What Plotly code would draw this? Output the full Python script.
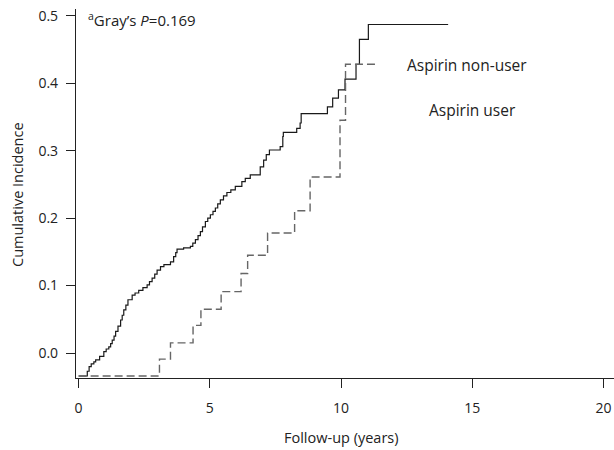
import plotly.graph_objects as go

# Aspirin non-user (solid): step times (years) and cumulative incidence after each step
nonuser_t = [0, 0.33, 0.40, 0.48, 0.58, 0.65, 0.80, 0.96, 1.05, 1.15, 1.22, 1.28, 1.35, 1.41,
             1.50, 1.60, 1.66, 1.72, 1.80, 1.88, 2.04, 2.15, 2.29, 2.45, 2.61, 2.70, 2.80,
             2.90, 2.99, 3.12, 3.25, 3.50, 3.62, 3.70, 3.75, 4.00, 4.26, 4.35, 4.45, 4.55,
             4.64, 4.72, 4.83, 4.92, 5.02, 5.12, 5.21, 5.30, 5.40, 5.52, 5.65, 5.80, 5.97,
             6.22, 6.35, 6.54, 6.92, 7.05, 7.15, 7.27, 7.68, 7.78, 7.80, 8.31, 8.44, 8.48,
             9.48, 9.68, 9.90, 10.15, 10.57, 10.70, 11.04, 14.08]
nonuser_v = [-0.034, -0.027, -0.020, -0.016, -0.013, -0.010, -0.005, 0.002, 0.006, 0.009,
             0.014, 0.019, 0.025, 0.032, 0.040, 0.049, 0.056, 0.064, 0.071, 0.079, 0.086,
             0.089, 0.093, 0.097, 0.101, 0.106, 0.111, 0.117, 0.123, 0.128, 0.131, 0.135,
             0.143, 0.149, 0.154, 0.156, 0.158, 0.163, 0.168, 0.174, 0.180, 0.187, 0.195,
             0.200, 0.205, 0.210, 0.215, 0.221, 0.227, 0.233, 0.238, 0.242, 0.247, 0.254,
             0.259, 0.264, 0.276, 0.286, 0.294, 0.301, 0.306, 0.321, 0.327, 0.333, 0.341,
             0.355, 0.365, 0.378, 0.390, 0.406, 0.428, 0.465, 0.487, 0.487]

# Aspirin user (dashed)
user_t = [0, 3.08, 3.50, 4.36, 4.66, 5.43, 6.19, 6.44, 7.20, 8.23, 8.82, 9.96, 10.17, 11.42]
user_v = [-0.034, -0.009, 0.015, 0.041, 0.065, 0.091, 0.118, 0.145, 0.178, 0.211, 0.261,
          0.345, 0.428, 0.428]

x_ticks = [0, 5, 10, 15, 20]
y_ticks = [0.0, 0.1, 0.2, 0.3, 0.4, 0.5]
y_ticklabels = ["0.0", "0.1", "0.2", "0.3", "0.4", "0.5"]

FONT = "Open Sans"
L, R, T, B = 76, 0, 9, 72
W, H = 614, 450
pw, ph = W - L - R, H - T - B


def px_to_paper(px, py):
    return (px - L) / pw, 1 - (py - T) / ph


fig = go.Figure()
fig.add_trace(go.Scatter(x=nonuser_t, y=nonuser_v, mode="lines", line_shape="hv",
                         line=dict(color="#1a1a1a", width=1.2), name="Aspirin non-user",
                         showlegend=False))
fig.add_trace(go.Scatter(x=user_t, y=user_v, mode="lines", line_shape="hv",
                         line=dict(color="#666666", width=1.4, dash="8px,4px"),
                         name="Aspirin user", showlegend=False))

annots = [
    ("<sup>a</sup>Gray\u2019s <i>P</i>=0.169", 86, 19, "left", 0, 15),
    ("Aspirin non-user", 467, 65, "center", 0, 15.5),
    ("Aspirin user", 472, 110, "center", 0, 15.5),
    ("Follow-up (years)", 341, 437, "center", 0, 14.5),
    ("Cumulative Incidence", 17, 195, "center", -90, 14.5),
]
annotations = []
for text, px, py, xa, ang, fs in annots:
    ax, ay = px_to_paper(px, py)
    annotations.append(dict(text=text, x=ax, y=ay, xref="paper", yref="paper",
                            showarrow=False, xanchor=xa, yanchor="middle",
                            textangle=ang, font=dict(size=fs)))

fig.update_layout(
    width=W, height=H,
    margin=dict(l=L, r=R, t=T, b=B, autoexpand=False),
    paper_bgcolor="white", plot_bgcolor="white",
    font=dict(family=FONT, size=14, color="#222222"),
    xaxis=dict(range=[-0.1, 20.4], tickvals=x_ticks, showgrid=False, zeroline=False,
               automargin=False, showline=True, linecolor="#222222", linewidth=1.2,
               ticks="outside", ticklen=9, tickwidth=1.2, tickcolor="#222222",
               ticklabelstandoff=8),
    yaxis=dict(range=[-0.037, 0.51], tickvals=y_ticks, ticktext=y_ticklabels,
               automargin=False, showgrid=False, zeroline=False, showline=True,
               linecolor="#222222", linewidth=1.2, ticks="outside", ticklen=9,
               tickwidth=1.2, tickcolor="#222222", ticklabelstandoff=5),
    annotations=annotations,
)

fig.write_html("out.html", config={"displayModeBar": False},
               post_script="document.body.style.margin='0';document.body.style.padding='0';")
